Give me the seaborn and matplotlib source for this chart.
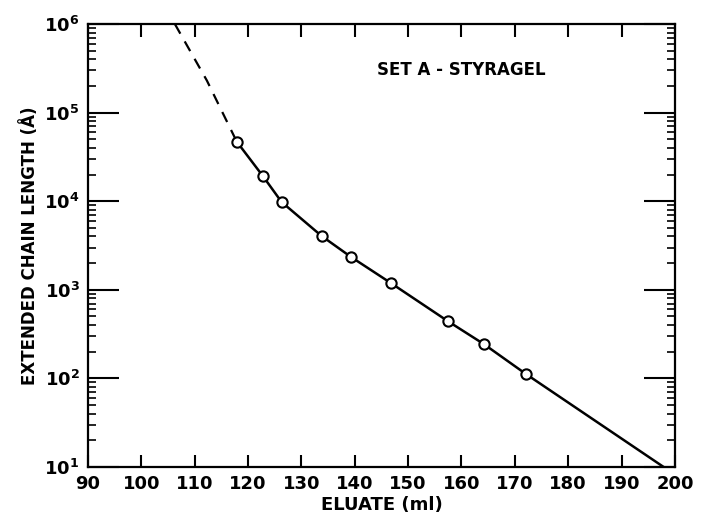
import numpy as np
import pandas as pd
import seaborn as sns
import matplotlib.pyplot as plt
from matplotlib.ticker import LogLocator, NullFormatter

# values
eluate = [117.9, 122.8, 126.3, 133.8, 139.3, 146.8, 157.4, 164.2, 172.1]
chain_length = [47000, 19200, 9800, 4050, 2350, 1190, 445, 244, 112]

# solid curve continues down to the bottom axis
curve_x = eluate + [197.9]
curve_y = chain_length + [10]

# dashed extrapolation at high lengths
dash_x = [106.3, 112.3, 117.9]
dash_y = [1.0e6, 2.3e5, 47000]

x_ticks = [90, 100, 110, 120, 130, 140, 150, 160, 170, 180, 190, 200]

sns.set_style("ticks")
plt.rcParams['font.family'] = ['DejaVu Sans']
plt.rcParams.update({'text.color': 'black', 'axes.labelcolor': 'black',
                     'xtick.color': 'black', 'ytick.color': 'black',
                     'axes.edgecolor': 'black'})

fig = plt.figure(figsize=(7.03, 5.14), dpi=100)
ax = fig.add_axes([0.125, 0.0914, 0.835, 0.8619])

curve = pd.DataFrame({'x': curve_x, 'y': curve_y})
dash = pd.DataFrame({'x': dash_x, 'y': dash_y})
pts = pd.DataFrame({'x': eluate, 'y': chain_length})

sns.lineplot(data=curve, x='x', y='y', ax=ax, color='black', lw=1.8, sort=False)
sns.lineplot(data=dash, x='x', y='y', ax=ax, color='black', lw=1.6, sort=False,
             linestyle=(0, (5, 4)))
sns.scatterplot(data=pts, x='x', y='y', ax=ax, marker='o', s=55,
                facecolor='white', edgecolor='black', linewidth=1.5, zorder=5)

ax.set_yscale('log')
ax.set_xlim(90, 200)
ax.set_ylim(10, 1e6)

ax.set_xticks(x_ticks)
ax.set_xticklabels([str(t) for t in x_ticks])
ax.yaxis.set_major_locator(LogLocator(base=10, numticks=10))
ax.yaxis.set_minor_locator(LogLocator(base=10, subs=np.arange(2, 10), numticks=20))
ax.yaxis.set_minor_formatter(NullFormatter())

for s in ax.spines.values():
    s.set_linewidth(1.6)
    s.set_visible(True)
    s.set_color('black')

ax.tick_params(axis='x', which='major', direction='in', length=9, width=1.5,
               top=True, labelsize=13, pad=6, colors='black')
ax.tick_params(axis='y', which='major', direction='in', length=22, width=1.5,
               right=True, labelsize=13, pad=6, colors='black')
ax.tick_params(axis='y', which='minor', direction='in', length=6, width=1.2,
               right=True, colors='black')
for lab in ax.get_xticklabels() + ax.get_yticklabels():
    lab.set_fontweight('bold')

ax.set_xlabel('ELUATE (ml)', fontsize=13, fontweight='bold', labelpad=2,
              color='black')
ax.set_ylabel('EXTENDED CHAIN LENGTH (Å)', fontsize=12, fontweight='bold',
              labelpad=4, color='black')

ax.text(160, 10**5.48, 'SET A - STYRAGEL', fontsize=12, fontweight='bold',
        ha='center', va='center', color='black')

fig.savefig('out.png', dpi=100)
